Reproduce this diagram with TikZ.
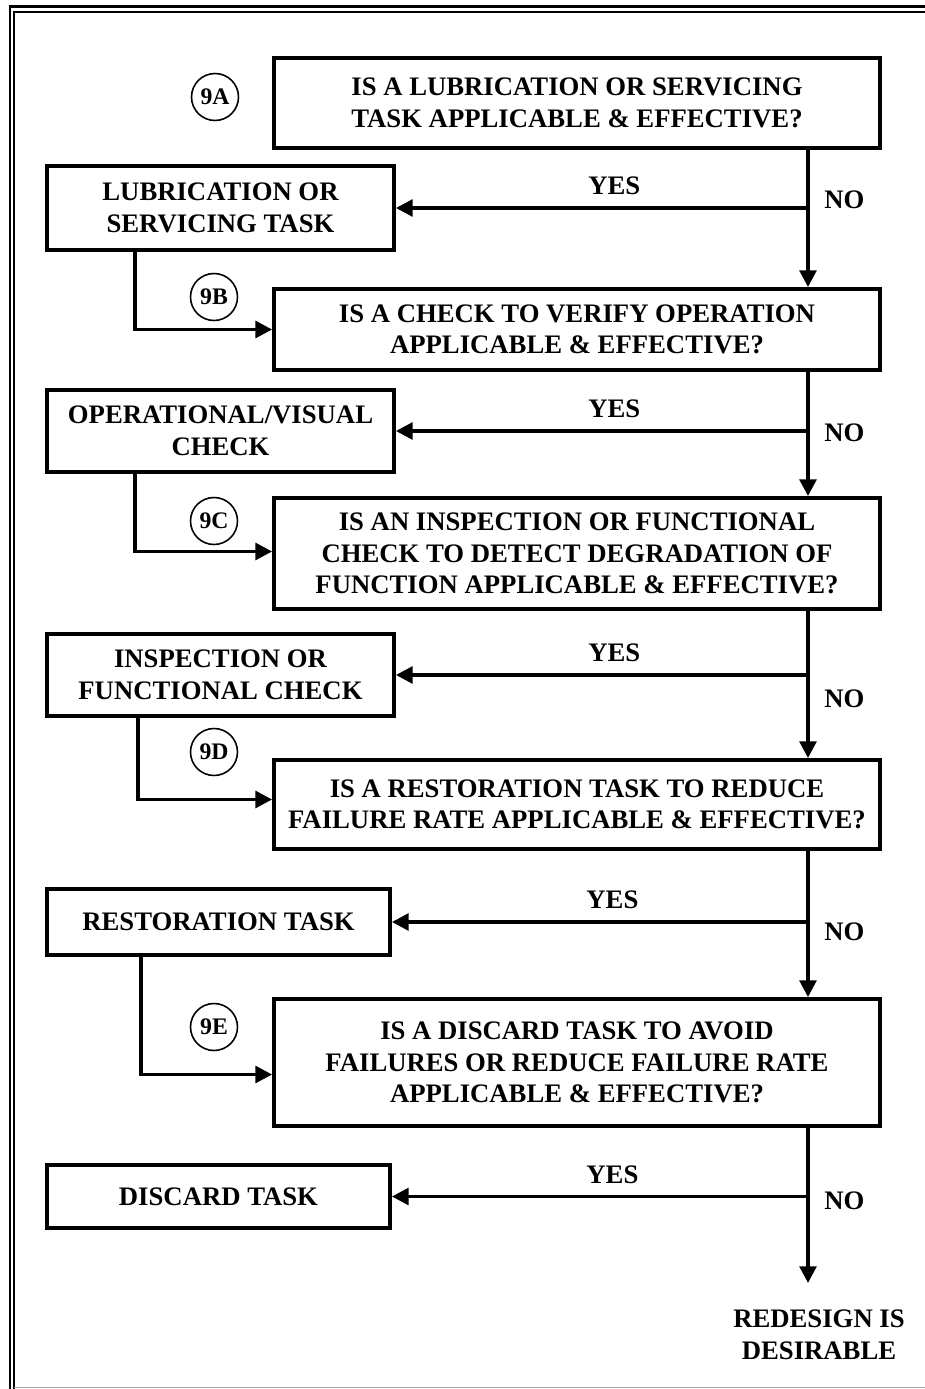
\documentclass[tikz,border=0pt]{standalone}
\usepackage{fontspec}
\setmainfont{Liberation Serif}
\usetikzlibrary{arrows.meta, positioning, calc}
\tikzset{
  question/.style={rectangle, minimum width=12.12cm, text centered, align=center, draw=black, line width=2.2pt, font=\bfseries\fontsize{15.2}{18}\selectfont},
  task/.style={rectangle, minimum width=6.94cm, text centered, align=center, draw=black, line width=2.2pt, font=\bfseries\fontsize{15.2}{18}\selectfont},
  tag/.style={circle, draw=black, line width=0.9pt, minimum size=0.94cm, inner sep=0pt, font=\bfseries\fontsize{13.5}{15}\selectfont},
  answer/.style={font=\bfseries\fontsize{15.2}{18}\selectfont},
  arrow/.style={line width=2pt, -{Triangle[length=9.5pt, width=9.5pt]}, color=black}
}
\begin{document}
\begin{tikzpicture}[x=0.02cm, y=-0.02cm]
    \useasboundingbox (0,0) rectangle (925,1389);
    % Frame
    \draw[line width=1.7pt] (10,1389) -- (10,6.5) -- (925,6.5);
    \draw[line width=0.9pt] (14,1389) -- (14,11.8) -- (925,11.8);
    \draw[gray!70, line width=0.6pt] (14,1387.5) -- (925,1387.5);

    % Defining nodes
    \node[question, minimum height=1.8cm] (q1) at (577,103) {IS A LUBRICATION OR SERVICING\\TASK APPLICABLE \& EFFECTIVE?};
    \node[question, minimum height=1.62cm] (q2) at (577,329.5) {IS A CHECK TO VERIFY OPERATION\\APPLICABLE \& EFFECTIVE?};
    \node[question, minimum height=2.22cm] (q3) at (577,553.5) {IS AN INSPECTION OR FUNCTIONAL\\CHECK TO DETECT DEGRADATION OF\\FUNCTION APPLICABLE \& EFFECTIVE?};
    \node[question, minimum height=1.78cm] (q4) at (577,804.5) {IS A RESTORATION TASK TO REDUCE\\FAILURE RATE APPLICABLE \& EFFECTIVE?};
    \node[question, minimum height=2.54cm] (q5) at (577,1062.5) {IS A DISCARD TASK TO AVOID\\FAILURES OR REDUCE FAILURE RATE\\APPLICABLE \& EFFECTIVE?};

    \node[task, minimum height=1.68cm] (t1) at (220.5,208) {LUBRICATION OR\\SERVICING TASK};
    \node[task, minimum height=1.64cm] (t2) at (220.5,431) {OPERATIONAL/VISUAL\\CHECK};
    \node[task, minimum height=1.64cm] (t3) at (220.5,675) {INSPECTION OR\\FUNCTIONAL CHECK};
    \node[task, minimum height=1.32cm, minimum width=6.86cm] (t4) at (218.5,922) {RESTORATION TASK};
    \node[task, minimum height=1.26cm, minimum width=6.86cm] (t5) at (218.5,1196.5) {DISCARD TASK};

    \node[tag] (tag9a) at (215,97) {9A};
    \node[tag] (tag9b) at (214,297) {9B};
    \node[tag] (tag9c) at (214,521) {9C};
    \node[tag] (tag9d) at (214,752) {9D};
    \node[tag] (tag9e) at (214,1027) {9E};

    \node[answer, align=center] (redesign) at (819,1335) {REDESIGN IS\\DESIRABLE};
    \coordinate (spine) at (808,0);
    \coordinate (stop) at (808,1283);

    % Drawing arrows
    \draw[arrow] (q1.south -| spine) -- node[answer, right=5pt, pos=0.36] {NO} (q2.north -| spine);
    \draw[arrow] (q2.south -| spine) -- node[answer, right=5pt, pos=0.49] {NO} (q3.north -| spine);
    \draw[arrow] (q3.south -| spine) -- node[answer, right=5pt, pos=0.6] {NO} (q4.north -| spine);
    \draw[arrow] (q4.south -| spine) -- node[answer, right=5pt, pos=0.55] {NO} (q5.north -| spine);
    \draw[arrow] (q5.south -| spine) -- node[answer, right=5pt, pos=0.47] {NO} (stop);

    \draw[arrow] (t1.east -| spine) -- node[answer, above=3pt, pos=0.47] {YES} (t1.east);
    \draw[arrow] (t2.east -| spine) -- node[answer, above=3pt, pos=0.47] {YES} (t2.east);
    \draw[arrow] (t3.east -| spine) -- node[answer, above=3pt, pos=0.47] {YES} (t3.east);
    \draw[arrow] (t4.east -| spine) -- node[answer, above=3pt, pos=0.47] {YES} (t4.east);
    \draw[arrow] (t5.east -| spine) -- node[answer, above=3pt, pos=0.47] {YES} (t5.east);

    \draw[arrow] ($(t1.south west)+(90,0)$) |- (q2.west);
    \draw[arrow] ($(t2.south west)+(90,0)$) |- ($(q3.west)+(0,-2)$);
    \draw[arrow] ($(t3.south west)+(93,0)$) |- ($(q4.west)+(0,-5)$);
    \draw[arrow] ($(t4.south west)+(96,0)$) |- ($(q5.west)+(0,12)$);
\end{tikzpicture}
\end{document}
